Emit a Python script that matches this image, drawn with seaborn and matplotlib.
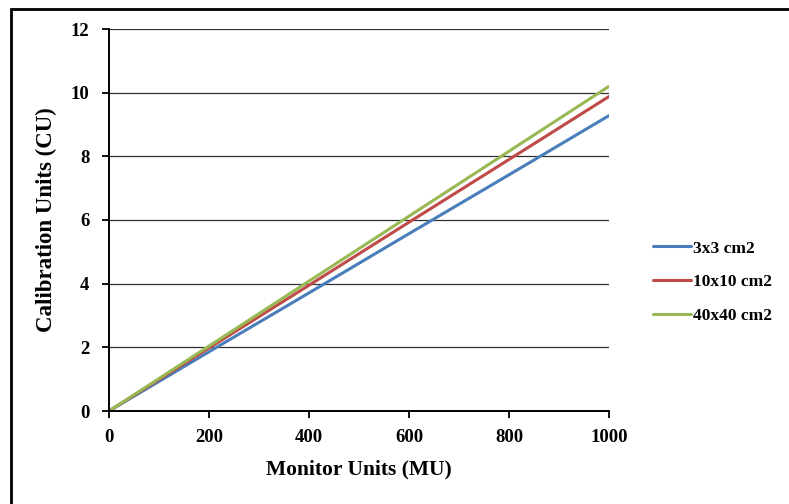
import matplotlib
matplotlib.use('Agg')
import matplotlib.pyplot as plt
import pandas as pd
import seaborn as sns
from matplotlib.patches import Rectangle

# Valores
monitor_units = [0, 200, 400, 600, 800, 1000]
cu_3x3 = [0, 1.86, 3.71, 5.57, 7.42, 9.28]
cu_10x10 = [0, 1.98, 3.95, 5.93, 7.90, 9.88]
cu_40x40 = [0, 2.04, 4.08, 6.12, 8.16, 10.20]
campos = ['3x3 cm2', '10x10 cm2', '40x40 cm2']
cores = ['#4A7EBB', '#BE4B48', '#98B954']

df = pd.DataFrame({
    'MU': monitor_units * 3,
    'CU': cu_3x3 + cu_10x10 + cu_40x40,
    'Campo': [campos[0]] * 6 + [campos[1]] * 6 + [campos[2]] * 6,
})

sns.set_style('white')
plt.rcParams['font.family'] = ['Liberation Serif', 'DejaVu Serif']
plt.rcParams['font.weight'] = 'bold'
plt.rcParams['text.color'] = 'black'

fig = plt.figure(figsize=(7.89, 5.04), dpi=100)
ax = fig.add_axes([109 / 789, 93 / 504, 500 / 789, 382 / 504])

sns.lineplot(data=df, x='MU', y='CU', hue='Campo', hue_order=campos,
             palette=dict(zip(campos, cores)), linewidth=2.2, ax=ax)

ax.set_xlim(0, 1000)
ax.set_ylim(0, 12)
ax.set_xticks([0, 200, 400, 600, 800, 1000])
ax.set_yticks([0, 2, 4, 6, 8, 10, 12])
ax.yaxis.grid(True, color='#303030', linewidth=0.9)
ax.set_axisbelow(True)
for s in ['top', 'right']:
    ax.spines[s].set_visible(False)
for s in ['left', 'bottom']:
    ax.spines[s].set_color('black')
    ax.spines[s].set_linewidth(1.4)
ax.tick_params(axis='both', direction='out', length=5, width=1.3, colors='black',
               labelsize=13.5, bottom=True, left=True)
ax.tick_params(axis='x', pad=8)
ax.tick_params(axis='y', pad=9)
for lab in ax.get_xticklabels() + ax.get_yticklabels():
    lab.set_fontweight('bold')

ax.set_xlabel('Monitor Units (MU)', fontsize=15.5, fontweight='bold', labelpad=10, color='black')
ax.set_ylabel('Calibration Units (CU)', fontsize=16.5, fontweight='bold', labelpad=10, color='black')

ax.legend(loc='center left', bbox_to_anchor=(637 / 789, (504 - 282) / 504),
          bbox_transform=fig.transFigure, frameon=False,
          handlelength=2.2, handletextpad=0.1, labelspacing=1.0,
          prop={'weight': 'bold', 'size': 12.5})

# Moldura da figura
fig.patches.append(Rectangle((11 / 789, -0.1), 1.2, (495 / 504) + 0.1,
                             transform=fig.transFigure, fill=False,
                             edgecolor='black', linewidth=2.0))

fig.savefig('out.png', dpi=100)
